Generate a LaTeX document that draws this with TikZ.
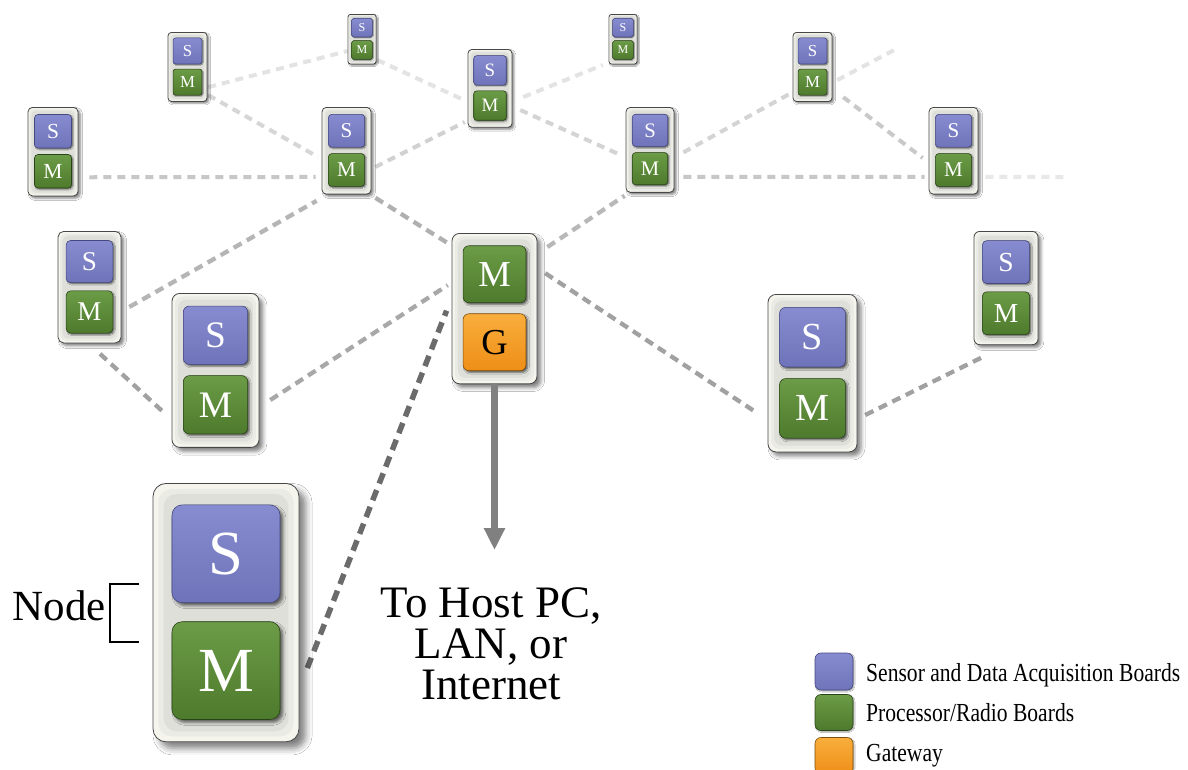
\documentclass[tikz,border=0pt]{standalone}
\usepackage{fontspec}
\setmainfont{Liberation Serif}
\usepackage{graphicx}
\usetikzlibrary{calc,shadows.blur,backgrounds,arrows.meta}

\definecolor{sTop}{HTML}{878CD0}
\definecolor{sBot}{HTML}{6F74BA}
\definecolor{sEdge}{HTML}{44487F}
\definecolor{mTop}{HTML}{6C9C47}
\definecolor{mBot}{HTML}{4D7A2C}
\definecolor{mEdge}{HTML}{2A4418}
\definecolor{gTop}{HTML}{F9AE3C}
\definecolor{gBot}{HTML}{EE8E17}
\definecolor{gEdge}{HTML}{7E4E0B}
\definecolor{rim}{HTML}{F5F5EE}
\definecolor{rimtwo}{HTML}{EBEBE5}
\definecolor{core}{HTML}{DFDFDA}
\definecolor{boxEdge}{HTML}{474747}
\definecolor{arrowgray}{HTML}{808080}

\tikzset{
  outerbox/.style={draw=boxEdge, line width=0.8pt, fill=rim, inner sep=0pt},
  board/.style={line width=0.6pt, inner sep=0pt, text=white},
  sboard/.style={board, top color=sTop, bottom color=sBot, draw=sEdge},
  mboard/.style={board, top color=mTop, bottom color=mBot, draw=mEdge},
  gboard/.style={board, top color=gTop, bottom color=gBot, draw=gEdge, text=black},
  conn/.style={line width=4pt, dash pattern=on 8pt off 6pt, draw=#1},
  connlow/.style={line width=4.3pt, dash pattern=on 9pt off 6pt, draw=#1},
  connbig/.style={line width=5.5pt, dash pattern=on 11pt off 7pt, draw=#1},
  legtext/.style={font=\fontsize{26}{26}\selectfont, anchor=base west, inner sep=0pt}
}

% #1 name, #2 centre x, #3 top y, #4 width, #5/#6 upper style/letter, #7/#8 lower style/letter
\newcommand\mote[8]{%
  \pgfmathsetmacro\moteW{#4}%
  \pgfmathsetmacro\moteH{1.77*#4}%
  \pgfmathsetmacro\moteR{0.09*#4}%
  \pgfmathsetmacro\moteShd{0.045*#4}%
  \pgfmathsetmacro\moteSml{0.02*#4}%
  \pgfmathsetmacro\moteF{0.43*#4}%
  \pgfmathsetmacro\moteI{0.04*#4}%
  \pgfmathsetmacro\moteJ{0.075*#4}%
  \pgfmathsetmacro\moteBW{0.74*#4}%
  \pgfmathsetmacro\moteBH{0.67*#4}%
  \pgfmathsetmacro\moteBR{0.07*#4}%
  \node[outerbox, anchor=north, minimum width=\moteW pt, minimum height=\moteH pt,
        rounded corners=\moteR pt,
        blur shadow={shadow xshift=\moteShd pt, shadow yshift=-\moteShd pt,
                     shadow blur radius=\moteShd pt, shadow opacity=50}] (#1) at (#2,#3) {};
  \fill[rimtwo, rounded corners=\moteR pt] ([shift={(\moteI,\moteI)}]#1.north west)
        rectangle ([shift={(-\moteI,-\moteI)}]#1.south east);
  \fill[core, rounded corners=\moteR pt] ([shift={(\moteJ,\moteJ)}]#1.north west)
        rectangle ([shift={(-\moteJ,-\moteJ)}]#1.south east);
  \node[#5, minimum width=\moteBW pt, minimum height=\moteBH pt, rounded corners=\moteBR pt,
        blur shadow={shadow xshift=\moteSml pt, shadow yshift=-\moteSml pt, shadow blur radius=\moteSml pt, shadow opacity=60},
        font=\fontsize{\moteF}{\moteF}\selectfont] (#1u) at (#2,#3+0.485*#4) {#6};
  \node[#7, minimum width=\moteBW pt, minimum height=\moteBH pt, rounded corners=\moteBR pt,
        blur shadow={shadow xshift=\moteSml pt, shadow yshift=-\moteSml pt, shadow blur radius=\moteSml pt, shadow opacity=60},
        font=\fontsize{\moteF}{\moteF}\selectfont] (#1l) at (#2,#3+1.285*#4) {#8};
}

\begin{document}
\begin{tikzpicture}[x=1pt,y=-1pt]
\useasboundingbox (0,0) rectangle (1188,769);

\coordinate (Ifree) at (1068,177);
\coordinate (Hfree) at (898,48);
\coordinate (hostend) at (494.5,550);

% nodes
\mote{A}{53}{107}{50}{sboard}{S}{mboard}{M}
\mote{B}{187.5}{32}{39}{sboard}{S}{mboard}{M}
\mote{C}{362}{14}{28}{sboard}{S}{mboard}{M}
\mote{D}{346.5}{107}{49}{sboard}{S}{mboard}{M}
\mote{E}{490}{49}{44}{sboard}{S}{mboard}{M}
\mote{F}{623}{14}{28}{sboard}{S}{mboard}{M}
\mote{G}{650}{107}{48}{sboard}{S}{mboard}{M}
\mote{H}{812.5}{32}{39}{sboard}{S}{mboard}{M}
\mote{I}{953.5}{107}{49}{sboard}{S}{mboard}{M}
\mote{J}{89.5}{231}{63}{sboard}{S}{mboard}{M}
\mote{K}{215.5}{293}{87}{sboard}{S}{mboard}{M}
\mote{L}{494.5}{233}{85}{mboard}{M}{gboard}{G}
\mote{N}{812.5}{294}{89}{sboard}{S}{mboard}{M}
\mote{O}{1006}{231}{64}{sboard}{S}{mboard}{M}
\mote{P}{226}{483}{146}{sboard}{S}{mboard}{M}

% uplink arrow
\draw[line width=7pt, draw=arrowgray, -{Triangle[width=20pt,length=22pt]}] (L.south) -- (hostend);

% labels
\node[font=\fontsize{43}{43}\selectfont, anchor=base east, inner sep=0pt] (nodelabel) at (106,620) {Node};
\draw[line width=2pt] (139,584) -- (110,584) -- (110,642) -- (139,642);
\node[font=\fontsize{45}{41}\selectfont, align=center, anchor=north, inner sep=0pt] (hosttext) at (491,587) {To Host PC,\\LAN, or\\Internet};

% legend
\node[sboard, minimum width=38pt, minimum height=37pt, rounded corners=6pt,
      blur shadow={shadow xshift=1pt, shadow yshift=-1pt, shadow blur radius=1pt}] (legS) at (834,671.5) {};
\node[mboard, minimum width=38pt, minimum height=36pt, rounded corners=6pt,
      blur shadow={shadow xshift=1pt, shadow yshift=-1pt, shadow blur radius=1pt}] (legM) at (834,712.5) {};
\node[gboard, minimum width=38pt, minimum height=37pt, rounded corners=6pt,
      blur shadow={shadow xshift=1pt, shadow yshift=-1pt, shadow blur radius=1pt}] (legG) at (834,756) {};
\node[legtext] (legSt) at (866,681) {\scalebox{0.83}[1]{Sensor and Data Acquisition Boards}};
\node[legtext] (legMt) at (866,721) {\scalebox{0.83}[1]{Processor/Radio Boards}};
\node[legtext] (legGt) at (866,761) {\scalebox{0.83}[1]{Gateway}};

% connectors behind everything
\begin{scope}[on background layer]
  \fill[white] (0,0) rectangle (1188,769);
  \draw[conn=black!11] ([shift={(6,5)}]Bl.east) -- ([shift={(-3.6,1)}]Cl.west);
  \draw[conn=black!16] ([shift={(6,13)}]Bl.east) -- ([shift={(-10,-13)}]Dl.west);
  \draw[conn=black!11] ([shift={(4.6,10)}]Cl.east) -- ([shift={(-3,12)}]E.west);
  \draw[conn=black!22] ([shift={(17.5,6)}]Al.east) -- ([shift={(-12.4,7)}]Dl.west);
  \draw[conn=black!18] ([shift={(10.4,-3)}]Dl.east) -- ([shift={(-8.7,16.5)}]El.west);
  \draw[conn=black!11] ([shift={(16.7,-8.5)}]El.east) -- ([shift={(-9.6,15)}]Fl.west);
  \draw[conn=black!17] ([shift={(13.7,4.5)}]El.east) -- ([shift={(-4,5.5)}]G.west);
  \draw[conn=black!17] ([shift={(9,2.5)}]G.east) -- ([shift={(-5,10)}]Hl.west);
  \draw[conn=black!22] ([shift={(15.2,8.3)}]Gl.east) -- ([shift={(-10.4,7)}]Il.west);
  \draw[conn=black!9]  ([shift={(13.4,7)}]Il.east) -- (Ifree);
  \draw[conn=black!11] ([shift={(10,-2)}]Hl.east) -- (Hfree);
  \draw[conn=black!21] ([shift={(16,15)}]Hl.east) -- ([shift={(-12.4,-12)}]Il.west);
  \draw[connlow=black!31] ([shift={(4,3.3)}]D.south east) -- ([shift={(-4,10)}]L.north west);
  \draw[connlow=black!28] ([shift={(10,14)}]L.north east) -- ([shift={(-1,3)}]G.south west);
  \draw[connlow=black!37] ([shift={(19,-1)}]Lu.east) -- ([shift={(-21.6,5)}]Nl.west);
  \draw[connlow=black!29] ([shift={(16.2,-5)}]Jl.east) -- ([shift={(-5,6.3)}]D.south west);
  \draw[connlow=black!34] ([shift={(22.3,-4.8)}]Kl.east) -- ([shift={(-15,11)}]Lu.west);
  \draw[connlow=black!37] ([shift={(10.5,10.5)}]J.south) -- ([shift={(-9,41)}]K.west);
  \draw[connlow=black!37] ([shift={(19.6,6.6)}]Nl.east) -- ([shift={(11,11)}]O.south west);
  \draw[connbig=black!58] ([shift={(27,-2.6)}]Pl.east) -- ([shift={(-5,2)}]L.west);
\end{scope}
\end{tikzpicture}
\end{document}
